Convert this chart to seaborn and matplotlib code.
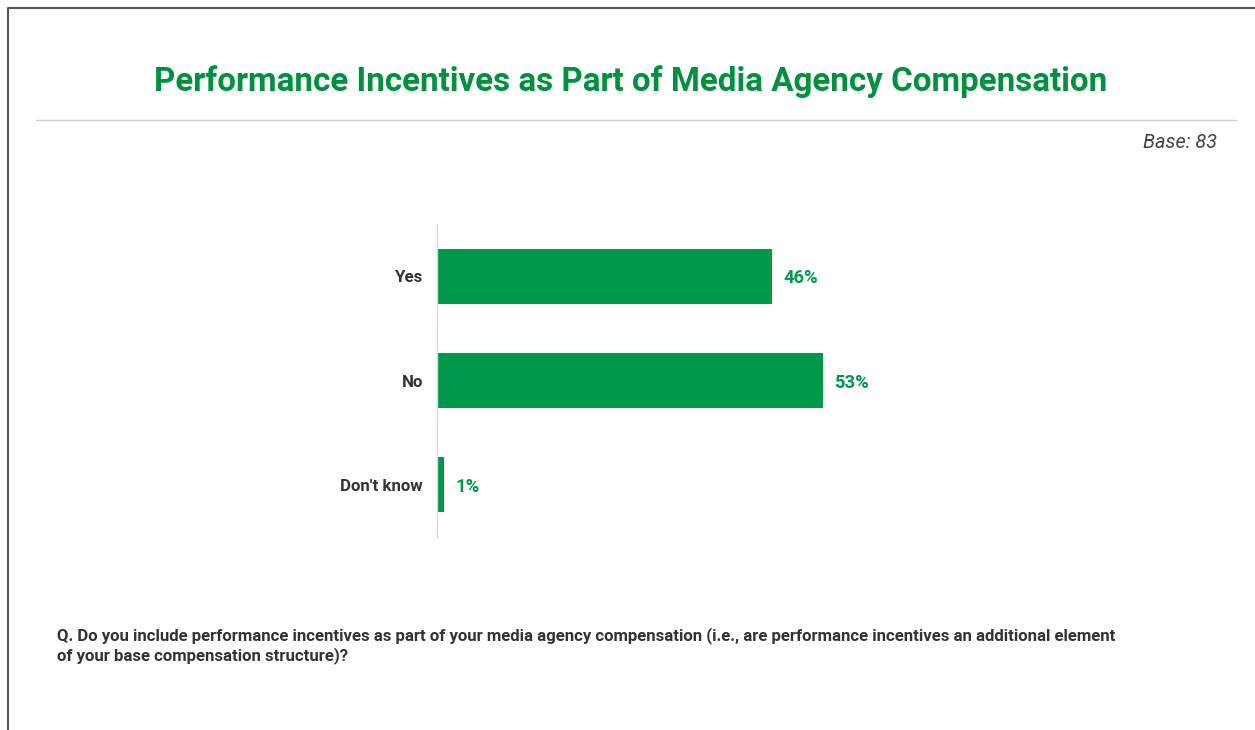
import matplotlib
matplotlib.use("Agg")
import matplotlib.pyplot as plt
from matplotlib.lines import Line2D
from matplotlib import font_manager
import seaborn as sns
import pandas as pd

# Survey responses
categories = ["Yes", "No", "Don't know"]
shares = [46, 53, 1]
value_labels = ["46%", "53%", "1%"]

title = "Performance Incentives as Part of Media Agency Compensation"
base_note = "Base: 83"
question_lines = [
    "Q. Do you include performance incentives as part of your media agency compensation "
    "(i.e., are performance incentives an additional element",
    "of your base compensation structure)?",
]

GREEN = "#00984A"
TITLE_GREEN = "#00913F"
DARK = "#333333"

sns.set_theme(style="white")
available = {f.name for f in font_manager.fontManager.ttflist}
face = next((n for n in ["Roboto", "Liberation Sans", "DejaVu Sans"] if n in available), "DejaVu Sans")
plt.rcParams["font.family"] = [face, "DejaVu Sans"]

W, H = 1255, 730
fig = plt.figure(figsize=(W / 100, H / 100), dpi=100)


def fy(px):
    return 1 - px / H


# axes: zero line at x=437, 7.28 px per percentage point, y span 224..537
left_px, top_px, bottom_px = 437, 224, 537
xmax = 100
right_px = left_px + 7.28 * xmax
ax = fig.add_axes([left_px / W, fy(bottom_px),
                   (right_px - left_px) / W, (bottom_px - top_px) / H])

df = pd.DataFrame({"category": categories, "share": shares})
sns.barplot(data=df, x="share", y="category", order=categories, color=GREEN,
            saturation=1, width=0.53, ax=ax, edgecolor="none")
ax.set_xlim(0, xmax)
ax.set_ylim(2.5, -0.5)
ax.set_xlabel("")
ax.set_ylabel("")
ax.set_xticks([])
for s in ["top", "right", "bottom"]:
    ax.spines[s].set_visible(False)
ax.spines["left"].set_color("#D9D9D9")
ax.spines["left"].set_linewidth(1)
ax.tick_params(axis="y", length=0, pad=10)
for t in ax.get_yticklabels():
    t.set_fontweight("bold")
    t.set_fontsize(12.2)
    t.set_color(DARK)

for i, (v, lab) in enumerate(zip(shares, value_labels)):
    ax.annotate(lab, xy=(v, i), xytext=(8, 0), textcoords="offset points",
                va="center_baseline", ha="left", color=GREEN, fontsize=13.2,
                fontweight="bold")

# title, rule, base note, question
fig.text(631 / W, fy(91), title, ha="center", va="baseline",
         color=TITLE_GREEN, fontsize=23.9, fontweight="bold")
fig.add_artist(Line2D([36 / W, 1236 / W], [fy(120), fy(120)],
                      color="#D0D0D0", lw=1))
fig.text(1217 / W, fy(148), base_note, ha="right", va="baseline",
         color="#444444", fontsize=14.3, style="italic")
for k, line in enumerate(question_lines):
    fig.text(57 / W, fy(640 + 20 * k), line, ha="left", va="baseline",
             color=DARK, fontsize=12.1, fontweight="bold")

# outer frame on left and top
fig.add_artist(Line2D([7.5 / W, 7.5 / W, 1], [0, fy(7.5), fy(7.5)],
                      color="#555555", lw=1.5))

fig.savefig("out.png", dpi=100)
